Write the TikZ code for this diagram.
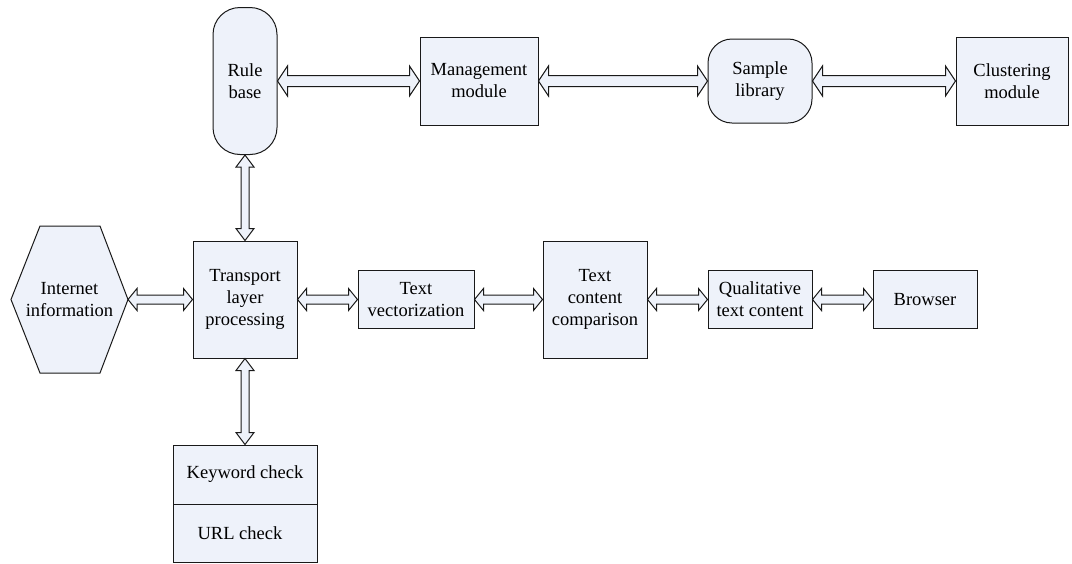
\documentclass[tikz,border=0pt]{standalone}
\usepackage{fontspec}
\setmainfont{Liberation Serif}
\usepackage{tikz}
\usetikzlibrary{calc}
\definecolor{boxblue}{HTML}{EEF2FA}

\begin{document}
\begin{tikzpicture}[x=1pt, y=-1pt,
  box/.style={rectangle, draw=black!90, fill=boxblue, line width=1pt, inner sep=0pt,
    font=\fontsize{18.5}{22}\selectfont, align=center},
  rbox/.style={box, rounded corners=#1},
  blk/.style={draw=black!90, fill=boxblue, line width=1pt, line join=miter},
  harr/.style n args={3}{blk, to path={
    -- ($(\tikztostart)+(#1,#2)$) -- ($(\tikztostart)+(#1,#3)$)
    -- ($(\tikztotarget)+(-#1,#3)$) -- ($(\tikztotarget)+(-#1,#2)$) -- (\tikztotarget)
    -- ($(\tikztotarget)+(-#1,-#2)$) -- ($(\tikztotarget)+(-#1,-#3)$)
    -- ($(\tikztostart)+(#1,-#3)$) -- ($(\tikztostart)+(#1,-#2)$) -- cycle}},
  varr/.style n args={3}{blk, to path={
    -- ($(\tikztostart)+(#2,#1)$) -- ($(\tikztostart)+(#3,#1)$)
    -- ($(\tikztotarget)+(#3,-#1)$) -- ($(\tikztotarget)+(#2,-#1)$) -- (\tikztotarget)
    -- ($(\tikztotarget)+(-#2,-#1)$) -- ($(\tikztotarget)+(-#3,-#1)$)
    -- ($(\tikztostart)+(-#3,#1)$) -- ($(\tikztostart)+(-#2,#1)$) -- cycle}},
]
  \useasboundingbox (0,0) rectangle (1072,563);

  \node[rbox=27pt, minimum width=64pt, minimum height=147pt] (rule) at (245,81) {Rule\\base};
  \node[box, minimum width=118pt, minimum height=88pt] (mgmt) at (479,81) {Management\\module};
  \node[rbox=24pt, minimum width=104pt, minimum height=84pt] (sample) at (760,81) {Sample\\library};
  \node[box, minimum width=112pt, minimum height=88pt] (clust) at (1012,81) {Clustering\\module};

  \draw[blk] (11,299.5) -- (40,226) -- (100,226) -- (128,299.5) -- (100,373) -- (40,373) -- cycle;
  \node[font=\fontsize{18.5}{22}\selectfont, align=center] (inet) at (69.5,299.5) {Internet\\information};
  \coordinate (inete) at (128,299.5);

  \node[box, minimum width=104pt, minimum height=117pt] (trans) at (245,299.5) {Transport\\layer\\processing};
  \node[box, minimum width=116pt, minimum height=58pt] (tvec) at (416,299.5) {Text\\vectorization};
  \node[box, minimum width=104pt, minimum height=117pt] (tcc) at (595,299.5) {Text\\content\\comparison};
  \node[box, minimum width=104pt, minimum height=58pt] (qual) at (760,299.5) {Qualitative\\text content};
  \node[box, minimum width=104pt, minimum height=58pt] (brow) at (925,299.5) {Browser};

  \node[box, minimum width=144pt, minimum height=59pt] (kw) at (245,474.5) {Keyword check};
  \node[box, minimum width=144pt, minimum height=58pt] (url) at (245,533) {\hspace*{-10pt}URL check};

  \path[harr={10}{15}{5.5}] (rule.east) to (mgmt.west);
  \path[harr={10}{15}{5.5}] (mgmt.east) to (sample.west);
  \path[harr={10}{15}{5.5}] (sample.east) to (clust.west);

  \path[varr={12}{9}{4}] (rule.south) to (trans.north);
  \path[varr={12}{9}{4}] (trans.south) to (kw.north);

  \path[harr={9}{11}{4.5}] (inete) to (trans.west);
  \path[harr={9}{11}{4.5}] (trans.east) to (tvec.west);
  \path[harr={9}{11}{4.5}] (tvec.east) to (tcc.west);
  \path[harr={9}{11}{4.5}] (tcc.east) to (qual.west);
  \path[harr={9}{11}{4.5}] (qual.east) to (brow.west);
\end{tikzpicture}
\end{document}
